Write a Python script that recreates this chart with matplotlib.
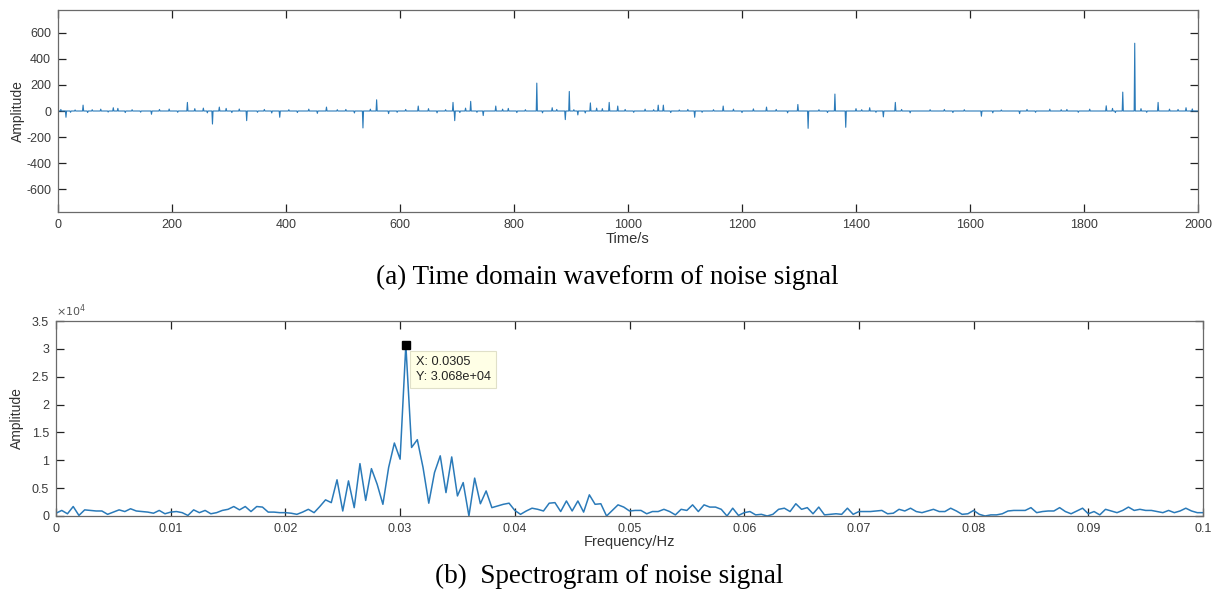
import numpy as np
import matplotlib
matplotlib.use("Agg")
import matplotlib.pyplot as plt

# ---------------- data ----------------
# (a) time-domain noise signal: 2000 samples (1 s spacing); events
n_samples = 2000
spike_t = [14, 44, 97, 164, 227, 271, 283, 331, 389, 471, 535, 559, 580,
           632, 693, 696, 724, 746, 768, 840, 867, 890, 897, 912, 934, 967, 982,
           1053, 1062, 1117, 1167, 1243, 1298, 1316, 1363, 1382, 1424, 1448, 1469,
           1620, 1687, 1839, 1868, 1889, 1930, 1979]
spike_a = [-48, 45, 25, -25, 66, -100, 30, -74, -48, 30, -130, 86, -20,
           38, 66, -74, 74, -35, 38, 214, 25, -66, 150, -30, 62, 66, 38,
           45, 45, -48, 38, 30, 50, -133, 130, -125, 25, -45, 66,
           -40, -20, 40, 145, 520, 66, 25]
small_t = [5, 22, 30, 52, 60, 75, 88, 105, 118, 130, 145, 178, 195, 210, 240,
           255, 262, 295, 305, 318, 350, 362, 375, 405, 420, 440, 455, 490, 505,
           520, 548, 595, 610, 650, 665, 680, 705, 715, 735, 780, 790, 805, 820,
           850, 875, 905, 925, 945, 955, 995, 1010, 1030, 1045, 1075, 1090, 1105,
           1130, 1150, 1185, 1200, 1220, 1260, 1280, 1335, 1350, 1400, 1410, 1435,
           1480, 1495, 1530, 1555, 1570, 1590, 1640, 1655, 1700, 1715, 1740, 1760,
           1770, 1790, 1810, 1850, 1855, 1900, 1910, 1950, 1965, 1990]
small_a = [12, -10, 8, -12, 10, 14, -8, 20, -12, 10, -9, 12, 15, -10, 18,
           22, -14, 20, -12, 15, -10, 12, -15, 10, -12, 14, -18, 10, 12,
           -15, 14, -10, 12, 18, -14, 10, -12, 22, -10, 14, 20, -12, 10,
           -14, 12, 10, -15, 22, 18, 12, -10, 14, 10, -12, 8, 12,
           -10, 10, 14, -12, 16, 12, -14, 10, -12, 18, 10, -10,
           12, -14, 10, 12, -12, 10, -14, 8, 12, -10, 14, 10,
           12, -10, 14, 20, -12, 18, -10, 14, 12, 16]

# (b) spectrum: frequency step 0.0005 Hz from 0 to 0.1 Hz; amplitude in units of 1e4
freq_step = 0.0005
amp_e4 = [0.05, 0.10, 0.04, 0.17, 0.01, 0.11, 0.10, 0.09, 0.09, 0.03,
          0.07, 0.11, 0.08, 0.13, 0.09, 0.08, 0.07, 0.05, 0.10, 0.04,
          0.07, 0.08, 0.06, 0.01, 0.11, 0.06, 0.10, 0.04, 0.06, 0.10,
          0.12, 0.17, 0.11, 0.17, 0.08, 0.17, 0.16, 0.07, 0.07, 0.06,
          0.06, 0.05, 0.03, 0.07, 0.12, 0.06, 0.17, 0.29, 0.24, 0.65,
          0.09, 0.63, 0.15, 0.94, 0.28, 0.85, 0.57, 0.21, 0.87, 1.31,
          1.02, 3.068, 1.23, 1.37, 0.87, 0.23, 0.78, 1.08, 0.42, 1.06,
          0.36, 0.60, 0.00, 0.68, 0.22, 0.45, 0.15, 0.18, 0.21, 0.23,
          0.10, 0.03, 0.09, 0.14, 0.12, 0.09, 0.23, 0.24, 0.08, 0.27,
          0.09, 0.27, 0.07, 0.38, 0.21, 0.22, 0.00, 0.10, 0.20, 0.16,
          0.09, 0.10, 0.10, 0.04, 0.08, 0.08, 0.12, 0.08, 0.02, 0.12,
          0.10, 0.20, 0.08, 0.20, 0.16, 0.16, 0.12, 0.00, 0.14, 0.01,
          0.06, 0.08, 0.02, 0.03, 0.00, 0.03, 0.12, 0.14, 0.08, 0.22,
          0.12, 0.15, 0.04, 0.16, 0.02, 0.03, 0.04, 0.03, 0.14, 0.03,
          0.08, 0.08, 0.08, 0.09, 0.10, 0.04, 0.05, 0.12, 0.09, 0.14,
          0.08, 0.06, 0.09, 0.12, 0.08, 0.08, 0.14, 0.09, 0.03, 0.04,
          0.10, 0.03, 0.00, 0.02, 0.02, 0.04, 0.09, 0.10, 0.10, 0.10,
          0.15, 0.06, 0.08, 0.09, 0.09, 0.15, 0.08, 0.04, 0.09, 0.14,
          0.04, 0.08, 0.02, 0.12, 0.09, 0.06, 0.10, 0.16, 0.10, 0.12,
          0.10, 0.10, 0.08, 0.06, 0.10, 0.06, 0.09, 0.14, 0.09, 0.06,
          0.06]
tip_x = 0.0305
tip_y = 3.068

# ---------------- figure ----------------
plt.rcParams['font.family'] = ['Liberation Sans', 'DejaVu Sans']
plt.rcParams['axes.unicode_minus'] = False
W, H = 1219, 590
fig = plt.figure(figsize=(W / 100, H / 100), dpi=100)
line_c = '#2a7ab9'
ax_c = '#6a6a6a'
tick_c = '#3a3a3a'


def style(ax):
    for s in ax.spines.values():
        s.set_color(ax_c)
        s.set_linewidth(0.9)
    ax.tick_params(direction='in', length=6, width=0.9, color='#222222',
                   top=True, right=True, labelsize=9, labelcolor=tick_c, pad=5)


# top panel
ax1 = fig.add_axes([58 / W, 1 - 212 / H, 1140 / W, 202 / H])
sig = np.zeros(n_samples)
for t, a in zip(small_t, small_a):
    sig[t - 1] = a
for t, a in zip(spike_t, spike_a):
    sig[t - 1] = a
t_axis = np.arange(1, n_samples + 1)
ax1.plot(t_axis, sig, color=line_c, lw=0.8)
ax1.set_xlim(0, 2000)
ax1.set_ylim(-775, 775)
ax1.set_xticks(np.arange(0, 2001, 200))
ax1.set_yticks(np.arange(-600, 601, 200))
style(ax1)
ax1.set_xlabel('Time/s', fontsize=10.5, color='#333333', labelpad=1)
ax1.set_ylabel('Amplitude', fontsize=10, color='#333333')
ax1.yaxis.set_label_coords(-0.029, 0.5)

# bottom panel
ax2 = fig.add_axes([56 / W, 1 - 516 / H, 1147 / W, 195 / H])
freq = np.arange(len(amp_e4)) * freq_step
ax2.plot(freq, amp_e4, color=line_c, lw=1.1)
ax2.set_xlim(0, 0.1)
ax2.set_ylim(0, 3.5)
ax2.set_xticks(np.arange(0, 0.1001, 0.01))
ax2.set_xticklabels(['0', '0.01', '0.02', '0.03', '0.04', '0.05', '0.06',
                     '0.07', '0.08', '0.09', '0.1'])
ax2.set_yticks(np.arange(0, 3.51, 0.5))
ax2.set_yticklabels(['0', '0.5', '1', '1.5', '2', '2.5', '3', '3.5'])
style(ax2)
ax2.set_xlabel('Frequency/Hz', fontsize=10.5, color='#333333', labelpad=0)
ax2.set_ylabel('Amplitude', fontsize=10, color='#333333')
ax2.yaxis.set_label_coords(-0.028, 0.5)
ax2.text(0.0, 1.01, r'$\times10^{4}$', transform=ax2.transAxes, fontsize=8,
         color='#555555', ha='left', va='bottom')

# datatip
ax2.plot([tip_x], [tip_y], marker='s', ms=6, color='black', zorder=5,
         clip_on=False)
ax2.text(tip_x + 0.00085, tip_y - 0.19, 'X: 0.0305\nY: 3.068e+04',
         fontsize=9.2, color='#222222', ha='left', va='top', linespacing=1.4,
         bbox=dict(boxstyle='square,pad=0.4', fc='#ffffe6', ec='#e0e0c8', lw=0.8),
         zorder=6)

# captions
fig.text(607 / W, 1 - 277 / H, '(a) Time domain waveform of noise signal',
         family='Liberation Serif', fontsize=19.5, ha='center', va='center',
         color='black')
fig.text(609 / W, 1 - 576 / H, '(b)  Spectrogram of noise signal',
         family='Liberation Serif', fontsize=19.5, ha='center', va='center',
         color='black')

fig.savefig('out.png', dpi=100)
